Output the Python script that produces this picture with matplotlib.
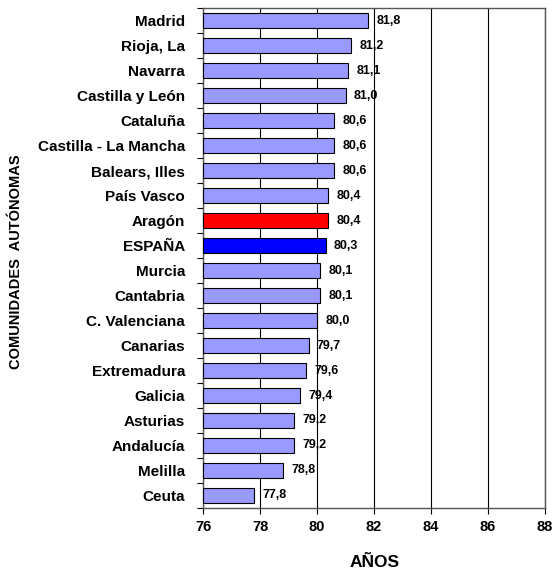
import matplotlib
matplotlib.use("Agg")
import matplotlib.pyplot as plt

plt.rcParams["font.family"] = ["Liberation Sans", "DejaVu Sans"]
plt.rcParams["font.weight"] = "bold"

regions = [
    "Madrid", "Rioja, La", "Navarra", "Castilla y León", "Cataluña",
    "Castilla - La Mancha", "Balears, Illes", "País Vasco", "Aragón", "ESPAÑA",
    "Murcia", "Cantabria", "C. Valenciana", "Canarias", "Extremadura",
    "Galicia", "Asturias", "Andalucía", "Melilla", "Ceuta",
]
years = [
    81.8, 81.2, 81.1, 81.0, 80.6,
    80.6, 80.6, 80.4, 80.4, 80.3,
    80.1, 80.1, 80.0, 79.7, 79.6,
    79.4, 79.2, 79.2, 78.8, 77.8,
]
highlight = {"Aragón": "#FF0000", "ESPAÑA": "#0000FF"}

fig = plt.figure(figsize=(5.55, 5.74), dpi=100)
ax = fig.add_axes([0.366, 0.115, 0.616, 0.871])

pos = list(range(len(regions)))[::-1]
colors = [highlight.get(r, "#9999FF") for r in regions]
base = 76
ax.barh(pos, [v - base for v in years], left=base, height=0.6,
        color=colors, edgecolor="black", linewidth=0.8, zorder=3)

for p, v in zip(pos, years):
    ax.annotate(f"{v:.1f}".replace(".", ","), (v, p), xytext=(6, 0),
                textcoords="offset points", va="center", ha="left",
                fontsize=9, fontweight="bold", zorder=4)

ax.set_xlim(76, 88)
ax.set_ylim(-0.5, len(regions) - 0.5)
ax.set_xticks(range(76, 89, 2))
ax.set_yticks(pos)
ax.set_yticklabels(regions, fontsize=11, fontweight="bold")
ax.set_yticks([p + 0.5 for p in pos] + [-0.5], minor=True)
ax.tick_params(axis="y", which="major", length=0, pad=13)
ax.tick_params(axis="y", which="minor", length=4, width=0.8, direction="out")
ax.tick_params(axis="x", labelsize=10.5, length=4, width=0.8, direction="out", pad=5)
for lab in ax.get_xticklabels():
    lab.set_fontweight("bold")

ax.grid(axis="x", color="black", linewidth=0.8, zorder=0)
ax.set_axisbelow(True)
for s in ax.spines.values():
    s.set_color("#555555")
    s.set_linewidth(1.0)

ax.set_xlabel("AÑOS", fontsize=12.5, fontweight="bold", labelpad=15)
fig.text(16 / 555, 1 - 262 / 574, "COMUNIDADES  AUTÓNOMAS", rotation=90,
         ha="center", va="center", fontsize=10.5, fontweight="bold")

fig.savefig("out.png", dpi=100)
